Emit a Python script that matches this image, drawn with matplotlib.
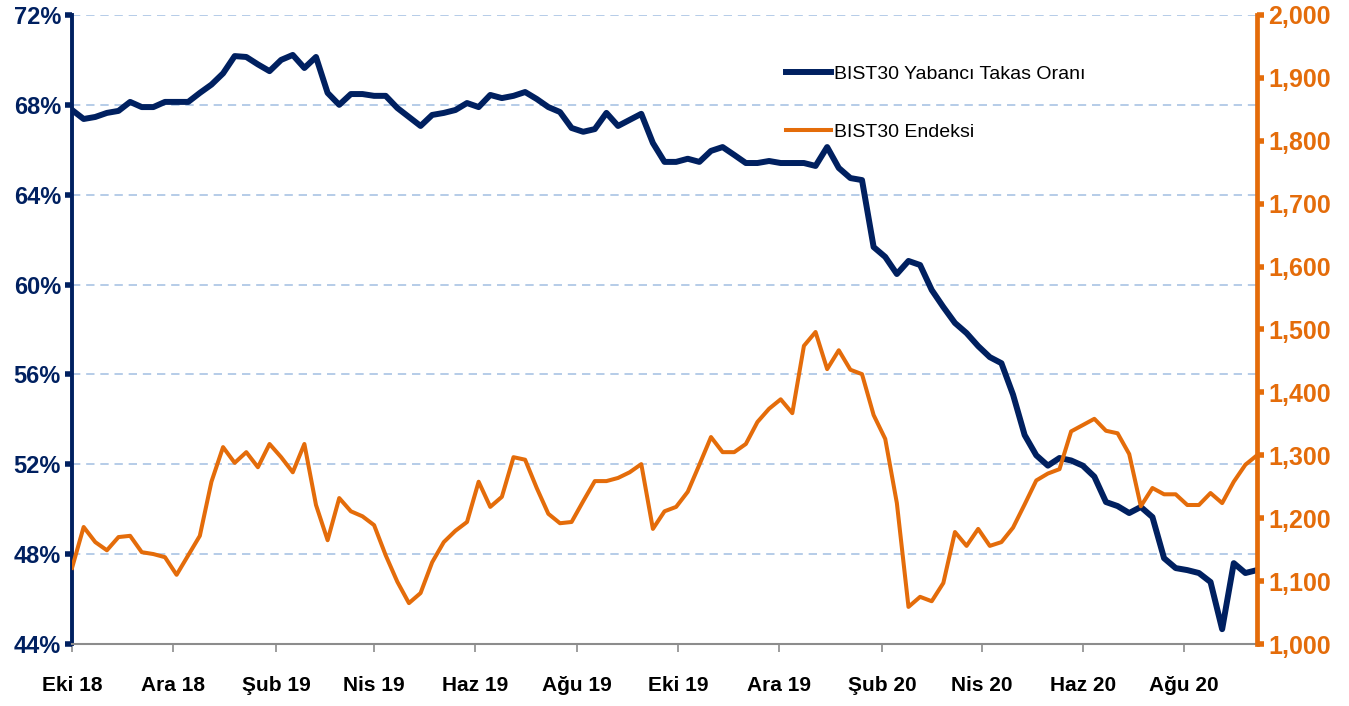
import pandas as pd
import matplotlib
matplotlib.use("Agg")
import matplotlib.pyplot as plt
from matplotlib.ticker import FuncFormatter, NullLocator

plt.rcParams['font.family'] = ['Liberation Sans', 'DejaVu Sans']

# weekly observations, Oct 2018 - Sep 2020
dates = pd.date_range('2018-10-01', periods=103, freq='7D')

# BIST30 foreign ownership ratio (%)
takas = [
    67.77, 67.37, 67.46, 67.64, 67.73, 68.13, 67.90, 67.90, 68.13, 68.13,
    68.13, 68.53, 68.90, 69.40, 70.17, 70.13, 69.80, 69.50, 70.00, 70.22,
    69.64, 70.13, 68.53, 68.00, 68.48, 68.48, 68.40, 68.40, 67.86, 67.46,
    67.06, 67.55, 67.64, 67.77, 68.08, 67.90, 68.44, 68.30, 68.40, 68.57,
    68.26, 67.90, 67.68, 66.97, 66.80, 66.92, 67.64, 67.06, 67.33, 67.60,
    66.30, 65.46, 65.46, 65.60, 65.46, 65.95, 66.12, 65.77, 65.41, 65.41,
    65.50, 65.41, 65.41, 65.41, 65.28, 66.12, 65.19, 64.74, 64.65, 61.67,
    61.23, 60.47, 61.05, 60.87, 59.76, 59.00, 58.29, 57.84, 57.26, 56.77,
    56.50, 55.10, 53.30, 52.40, 51.94, 52.28, 52.17, 51.94, 51.45, 50.32,
    50.14, 49.83, 50.10, 49.65, 47.82, 47.38, 47.29, 47.16, 46.76, 44.66,
    47.60, 47.16, 47.29,
]

# BIST30 index level
endeks = [
    1121, 1186, 1162, 1149, 1170, 1172, 1146, 1143, 1138, 1110,
    1141, 1172, 1258, 1313, 1288, 1305, 1281, 1318, 1297, 1273,
    1318, 1221, 1165, 1232, 1211, 1203, 1189, 1141, 1099, 1065,
    1081, 1130, 1162, 1180, 1194, 1258, 1218, 1234, 1297, 1293,
    1248, 1207, 1192, 1194, 1227, 1259, 1259, 1264, 1273, 1286,
    1183, 1211, 1218, 1242, 1285, 1329, 1305, 1305, 1318, 1353,
    1374, 1389, 1367, 1474, 1496, 1437, 1467, 1436, 1429, 1364,
    1326, 1224, 1059, 1075, 1068, 1097, 1178, 1156, 1183, 1156,
    1162, 1185, 1222, 1260, 1271, 1278, 1338, 1348, 1358, 1339,
    1335, 1302, 1219, 1248, 1238, 1238, 1221, 1221, 1240, 1224,
    1258, 1285, 1300,
]

tick_dates = pd.date_range('2018-10-01', '2020-08-01', freq='2MS')
tick_labels = ['Eki 18', 'Ara 18', 'Şub 19', 'Nis 19', 'Haz 19', 'Ağu 19',
               'Eki 19', 'Ara 19', 'Şub 20', 'Nis 20', 'Haz 20', 'Ağu 20']

navy = '#002060'
orange = '#E46C0A'

fig = plt.figure(figsize=(13.49, 7.06), dpi=100)
ax = fig.add_axes([0.0534, 0.0878, 0.8784, 0.891])
ax2 = ax.twinx()

l1, = ax.plot(dates, takas, color=navy, lw=4.3, label='BIST30 Yabancı Takas Oranı')
l2, = ax2.plot(dates, endeks, color=orange, lw=2.9, label='BIST30 Endeksi')

ax.set_xlim(dates[0], dates[-1])
ax.set_ylim(44, 72)
ax.set_yticks(range(44, 73, 4))
ax.yaxis.set_major_formatter(FuncFormatter(lambda v, p: f'{v:.0f}%'))
ax2.set_ylim(1000, 2000)
ax2.set_yticks(range(1000, 2001, 100))
ax2.yaxis.set_major_formatter(FuncFormatter(lambda v, p: f'{v:,.0f}'))

ax.set_xticks(tick_dates)
ax.set_xticklabels(tick_labels)
ax.xaxis.set_minor_locator(NullLocator())

ax.grid(axis='y', color='#A9C4E4', ls=(0, (5, 3.5)), lw=1.2)
ax.set_axisbelow(True)

for a in (ax, ax2):
    a.spines['top'].set_visible(False)
ax.spines['left'].set_color(navy)
ax.spines['left'].set_linewidth(2.8)
ax.spines['right'].set_visible(False)
ax.spines['bottom'].set_color('#8C8C8C')
ax.spines['bottom'].set_linewidth(1.5)
ax2.spines['left'].set_visible(False)
ax2.spines['bottom'].set_visible(False)
ax2.spines['right'].set_color(orange)
ax2.spines['right'].set_linewidth(3.4)

ax.tick_params(axis='y', colors=navy, length=5, width=4, labelsize=17, pad=3)
ax2.tick_params(axis='y', colors=orange, length=5, width=4, labelsize=18, pad=3)
ax.tick_params(axis='x', colors='#8C8C8C', labelcolor='black', length=6,
               width=1.2, labelsize=15, pad=17)
for t in ax.get_yticklabels() + ax2.get_yticklabels() + ax.get_xticklabels():
    t.set_fontweight('bold')

fig.legend(handles=[l1, l2], loc='upper left', bbox_to_anchor=(0.570, 0.932),
           frameon=False, fontsize=14, labelspacing=2.05, handlelength=2.3,
           handletextpad=0.15)

fig.savefig('out.png', dpi=100)
